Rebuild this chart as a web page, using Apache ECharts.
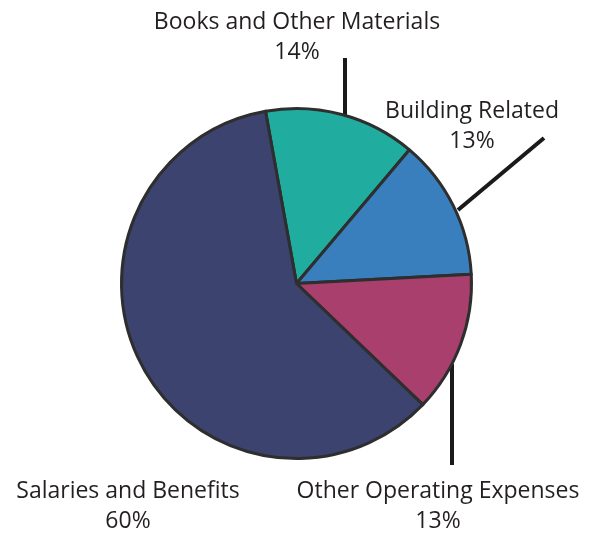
<!DOCTYPE html>
<html>
<head>
<meta charset="utf-8">
<script src="https://cdn.jsdelivr.net/npm/echarts@6/dist/echarts.min.js"></script>
<style>
  html, body { margin: 0; padding: 0; background: #fff; }
  #chart { width: 600px; height: 533px; }
</style>
</head>
<body>
<div id="chart"></div>
<script>
const categories = ['Books and Other Materials', 'Building Related', 'Other Operating Expenses', 'Salaries and Benefits'];
const shares = [14, 13, 13, 60];
const colors = ['#20ada0', '#3a7fbd', '#a93f6d', '#3b436e'];

// label block centres and leader lines (pixels)
const labelPos = [[297, 37], [472, 126], [438, 506], [128, 506]];
const leaderLines = [
  [[345, 116], [345, 58]],
  [[458, 210], [544, 138]],
  [[452, 364], [452, 465]],
  null
];

const chart = echarts.init(document.getElementById('chart'));

chart.setOption({
  animation: false,
  series: [
    {
      type: 'pie',
      center: [296.5, 283.5],
      radius: 175,
      startAngle: 100.2,
      clockwise: true,
      itemStyle: {
        borderColor: '#2e2e2e',
        borderWidth: 3
      },
      label: {
        show: true,
        position: 'outside',
        formatter: '{b}\n{d}%',
        fontFamily: 'Open Sans',
        fontSize: 23,
        lineHeight: 30,
        color: '#231f20',
        align: 'center',
        overflow: 'none'
      },
      labelLine: {
        show: true,
        lineStyle: { color: '#1a1a1a', width: 4 }
      },
      labelLayout: function (params) {
        const i = params.dataIndex;
        const out = {
          x: labelPos[i][0],
          y: labelPos[i][1],
          width: 400,
          align: 'center',
          verticalAlign: 'middle'
        };
        if (leaderLines[i]) out.labelLinePoints = leaderLines[i];
        return out;
      },
      emphasis: { disabled: true },
      data: categories.map((name, i) => ({
        name: name,
        value: shares[i],
        itemStyle: { color: colors[i] },
        labelLine: { show: !!leaderLines[i] }
      }))
    }
  ]
});
</script>
</body>
</html>
